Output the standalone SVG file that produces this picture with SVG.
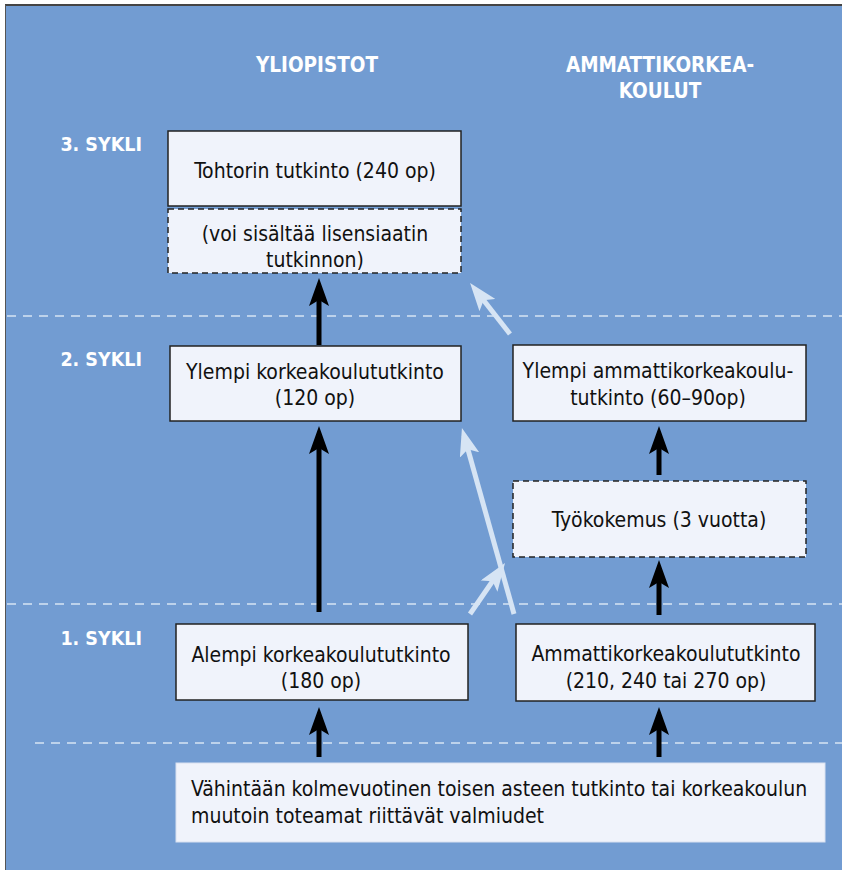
<svg xmlns="http://www.w3.org/2000/svg" width="842" height="870" viewBox="0 0 842 870">
<defs>
<style>
.t{font-family:"DejaVu Sans Condensed","DejaVu Sans",sans-serif;font-size:21px;fill:#111;text-anchor:middle}
.h{font-family:"DejaVu Sans Condensed","DejaVu Sans",sans-serif;font-size:20.5px;font-weight:bold;fill:#fff;text-anchor:middle}
.s{font-family:"DejaVu Sans Condensed","DejaVu Sans",sans-serif;font-size:19.5px;font-weight:bold;fill:#fff;text-anchor:end}
.box{fill:#F0F3FB;stroke:#222;stroke-width:1.5}
.dbox{fill:#F0F3FB;stroke:#222;stroke-width:1.5;stroke-dasharray:6,4}
.sep{stroke:#D6E4F4;stroke-width:1.5;stroke-dasharray:9,7;fill:none}
.blk{stroke:#000;stroke-width:5;fill:none}
.lt{stroke:#D6E4F4;stroke-width:5;fill:none}
</style>
<marker id="ab" viewBox="0 0 28 20" refX="20" refY="10" markerWidth="5.6" markerHeight="4" orient="auto" markerUnits="strokeWidth"><path d="M0,0 L28,10 L0,20 L6,10 Z" fill="#000"/></marker>
<marker id="al" viewBox="0 0 28 20" refX="20" refY="10" markerWidth="5.6" markerHeight="4" orient="auto" markerUnits="strokeWidth"><path d="M0,0 L28,10 L0,20 L6,10 Z" fill="#D6E4F4"/></marker>
</defs>
<rect x="0" y="0" width="842" height="870" fill="#fff"/>
<rect x="5" y="5" width="837" height="865" fill="#729CD2"/>
<line x1="5" y1="5" x2="842" y2="5" stroke="#444" stroke-width="2"/>
<line x1="5.5" y1="5" x2="5.5" y2="870" stroke="#555" stroke-width="1"/>

<g id="separators">
<line class="sep" x1="7" y1="316" x2="842" y2="316"/>
<line class="sep" x1="7" y1="604" x2="842" y2="604"/>
<line class="sep" x1="35" y1="743" x2="842" y2="743"/>
</g>

<g id="headers">
<text class="h" x="317" y="72">YLIOPISTOT</text>
<text class="h" x="660" y="72">AMMATTIKORKEA-</text>
<text class="h" x="660" y="98">KOULUT</text>
<text class="s" x="142" y="151">3. SYKLI</text>
<text class="s" x="142" y="366">2. SYKLI</text>
<text class="s" x="142" y="645">1. SYKLI</text>
</g>

<g id="connectors">
<line class="blk" x1="319" y1="612" x2="319" y2="434" marker-end="url(#ab)"/>
<line class="blk" x1="319" y1="345" x2="319" y2="286" marker-end="url(#ab)"/>
<line class="blk" x1="319" y1="757" x2="319" y2="715" marker-end="url(#ab)"/>
<line class="blk" x1="659" y1="757" x2="659" y2="715" marker-end="url(#ab)"/>
<line class="blk" x1="659" y1="615" x2="659" y2="568" marker-end="url(#ab)"/>
<line class="blk" x1="659" y1="475" x2="659" y2="434" marker-end="url(#ab)"/>
<line class="lt" x1="514" y1="614" x2="464.1" y2="435.7" marker-end="url(#al)"/>
<line class="lt" x1="470" y1="614" x2="500.5" y2="569.6" marker-end="url(#al)"/>
<line class="lt" x1="510" y1="334" x2="475" y2="289.3" marker-end="url(#al)"/>
</g>

<g id="tohtori">
<rect class="box" x="168" y="131" width="293" height="75"/>
<text class="t" x="315" y="178">Tohtorin tutkinto (240 op)</text>
</g>
<g id="lisensiaatti">
<rect class="dbox" x="168" y="209" width="293" height="64"/>
<text class="t" x="315" y="241">(voi sisältää lisensiaatin</text>
<text class="t" x="315" y="267">tutkinnon)</text>
</g>
<g id="ylempi-kk">
<rect class="box" x="170" y="346" width="291" height="75"/>
<text class="t" x="315" y="379">Ylempi korkeakoulututkinto</text>
<text class="t" x="315" y="405">(120 op)</text>
</g>
<g id="ylempi-amk">
<rect class="box" x="513" y="345" width="293" height="76"/>
<text class="t" x="658" y="378">Ylempi ammattikorkeakoulu-</text>
<text class="t" x="658" y="405">tutkinto (60–90op)</text>
</g>
<g id="tyokokemus">
<rect class="dbox" x="513" y="481" width="293" height="76"/>
<text class="t" x="659" y="527">Työkokemus (3 vuotta)</text>
</g>
<g id="alempi">
<rect class="box" x="176" y="624" width="292" height="76"/>
<text class="t" x="321" y="662">Alempi korkeakoulututkinto</text>
<text class="t" x="321" y="688">(180 op)</text>
</g>
<g id="amk">
<rect class="box" x="516" y="624" width="299" height="77"/>
<text class="t" x="666" y="661">Ammattikorkeakoulututkinto</text>
<text class="t" x="666" y="688">(210, 240 tai 270 op)</text>
</g>
<g id="pohja">
<rect x="176" y="763" width="649" height="79" fill="#F0F3FB" stroke="#D8E0F0" stroke-width="1"/>
<text class="t" x="191" y="796" style="text-anchor:start">Vähintään kolmevuotinen toisen asteen tutkinto tai korkeakoulun</text>
<text class="t" x="191" y="823" style="text-anchor:start">muutoin toteamat riittävät valmiudet</text>
</g>
</svg>
